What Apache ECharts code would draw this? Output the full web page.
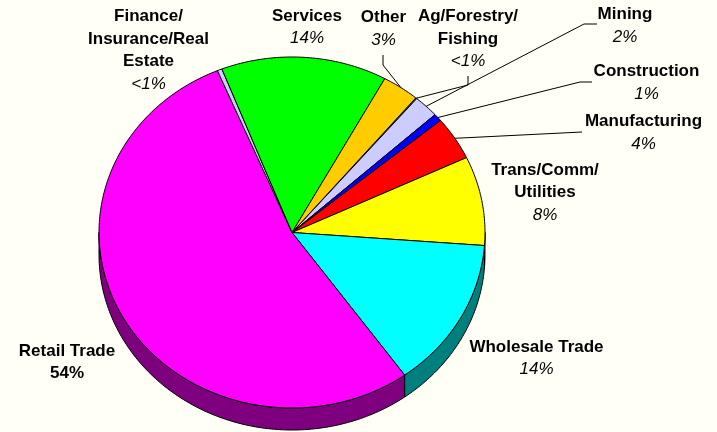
<!DOCTYPE html>
<html>
<head>
<meta charset="utf-8">
<script src="https://cdn.jsdelivr.net/npm/echarts@6/dist/echarts.min.js"></script>
<style>
  html, body { margin: 0; padding: 0; background: #FFFFF5; }
  #chart { width: 717px; height: 432px; }
</style>
</head>
<body>
<div id="chart"></div>
<script>
// Employment share by industry division (percent of total)
const categories = [
  'Ag/Forestry/\nFishing',
  'Mining',
  'Construction',
  'Manufacturing',
  'Trans/Comm/\nUtilities',
  'Wholesale Trade',
  'Retail Trade',
  'Finance/\nInsurance/Real\nEstate',
  'Services',
  'Other'
];
const shares = [0.1, 2.1, 0.7, 4.0, 8.2, 13.9, 53.6, 0.4, 13.9, 3.1];

// Slice face colours (the wall colour is the same hue at half brightness)
const topColors = ['#669999', '#CCCCFF', '#0000FF', '#FF0000', '#FFFF00',
                   '#00FFFF', '#FF00FF', '#CCCCFF', '#00FF00', '#FFCC00'];

// Pie geometry: tilted ellipse with a visible wall
const CX = 292, CY = 232.5, RX = 193, RY = 175.5, DEPTH = 22;
const START = 39.9;   // angle of the first slice, clockwise from 12 o'clock
const FONT = '"Liberation Sans", Arial, Helvetica, sans-serif';
const FS = 17, LH = 22.5;

// Label placement: centre x, top of first line, optional leader elbow points
const labelLayout = {
  'Ag/Forestry/\nFishing':            { x: 468,   top: 5.5,   leader: [[468, 76], [468, 85]] },
  'Mining':                           { x: 625,   top: 3.5,   leader: [[597, 24], [584, 24]] },
  'Construction':                     { x: 646.5, top: 60.5,  leader: [[592, 82], [580, 82]] },
  'Manufacturing':                    { x: 643.5, top: 110.5, leader: [[582, 132]] },
  'Trans/Comm/\nUtilities':           { x: 545,   top: 159 },
  'Wholesale Trade':                  { x: 536.5, top: 336 },
  'Retail Trade':                     { x: 67,    top: 340,   pctBold: true },
  'Finance/\nInsurance/Real\nEstate': { x: 148.5, top: 5.5 },
  'Services':                         { x: 307,   top: 5 },
  'Other':                            { x: 383.5, top: 6.5,   leader: [[383, 55], [383, 65]] }
};

const total = shares.reduce((s, v) => s + v, 0);
const spans = [];
let acc = START;
shares.forEach(v => {
  const span = v / total * 360;
  spans.push([acc, acc + span]);
  acc += span;
});

function darker(hex) {
  const n = parseInt(hex.slice(1), 16);
  const r = ((n >> 16) & 255) >> 1, g = ((n >> 8) & 255) >> 1, b = (n & 255) >> 1;
  return 'rgb(' + r + ',' + g + ',' + b + ')';
}

function pt(phi, dy) {
  const r = phi * Math.PI / 180;
  return [CX + RX * Math.sin(r), CY - RY * Math.cos(r) + (dy || 0)];
}

function arc(a, b, dy) {
  const n = Math.max(1, Math.ceil((b - a) / 1));
  const out = [];
  for (let k = 0; k <= n; k++) out.push(pt(a + (b - a) * k / n, dy));
  return out;
}

// whole percent; shares that round to zero read "<1%"
function pctText(v) {
  const p = Math.round(v / total * 100);
  return p < 1 ? '<1%' : p + '%';
}

function renderItem(params, api) {
  const i = params.dataIndex;
  const name = categories[i];
  const value = api.value(1);
  const [a, b] = spans[i];
  const children = [];

  // top face
  children.push({
    type: 'polygon',
    shape: { points: [[CX, CY]].concat(arc(a, b, 0)) },
    style: { fill: topColors[i], stroke: '#000', lineWidth: 1, lineJoin: 'round' },
    z2: 10
  });

  // front wall (visible between 3 o'clock and 9 o'clock)
  const s = Math.max(a, 90), e = Math.min(b, 270);
  if (e > s) {
    const upper = arc(s, e, 0);
    const lower = arc(s, e, DEPTH).reverse();
    children.push({
      type: 'polygon',
      shape: { points: upper.concat(lower) },
      style: { fill: darker(topColors[i]), stroke: '#000', lineWidth: 1, lineJoin: 'round' },
      z2: 1
    });
  }

  // label
  const L = labelLayout[name];
  const lines = name.split('\n');
  lines.forEach((t, k) => {
    children.push({
      type: 'text',
      style: {
        x: L.x, y: L.top + k * LH + LH / 2, text: t,
        fill: '#000', fontFamily: FONT, fontSize: FS, fontWeight: 'bold',
        align: 'center', verticalAlign: 'middle'
      },
      z2: 30
    });
  });
  children.push({
    type: 'text',
    style: {
      x: L.x, y: L.top + lines.length * LH + LH / 2, text: pctText(value),
      fill: '#000', fontFamily: FONT, fontSize: FS,
      fontWeight: L.pctBold ? 'bold' : 'normal',
      fontStyle: L.pctBold ? 'normal' : 'italic',
      align: 'center', verticalAlign: 'middle'
    },
    z2: 30
  });

  // leader line to the middle of the slice rim
  if (L.leader) {
    const mid = pt((a + b) / 2, 0);
    children.push({
      type: 'polyline',
      shape: { points: L.leader.concat([mid]) },
      style: { stroke: '#000', lineWidth: 1, fill: null },
      z2: 20
    });
  }

  return { type: 'group', children: children };
}

const chart = echarts.init(document.getElementById('chart'), null, { renderer: 'canvas' });
chart.setOption({
  backgroundColor: '#FFFFF5',
  animation: false,
  series: [{
    type: 'custom',
    coordinateSystem: 'none',
    renderItem: renderItem,
    data: shares.map((v, i) => [i, v])
  }]
});
</script>
</body>
</html>
